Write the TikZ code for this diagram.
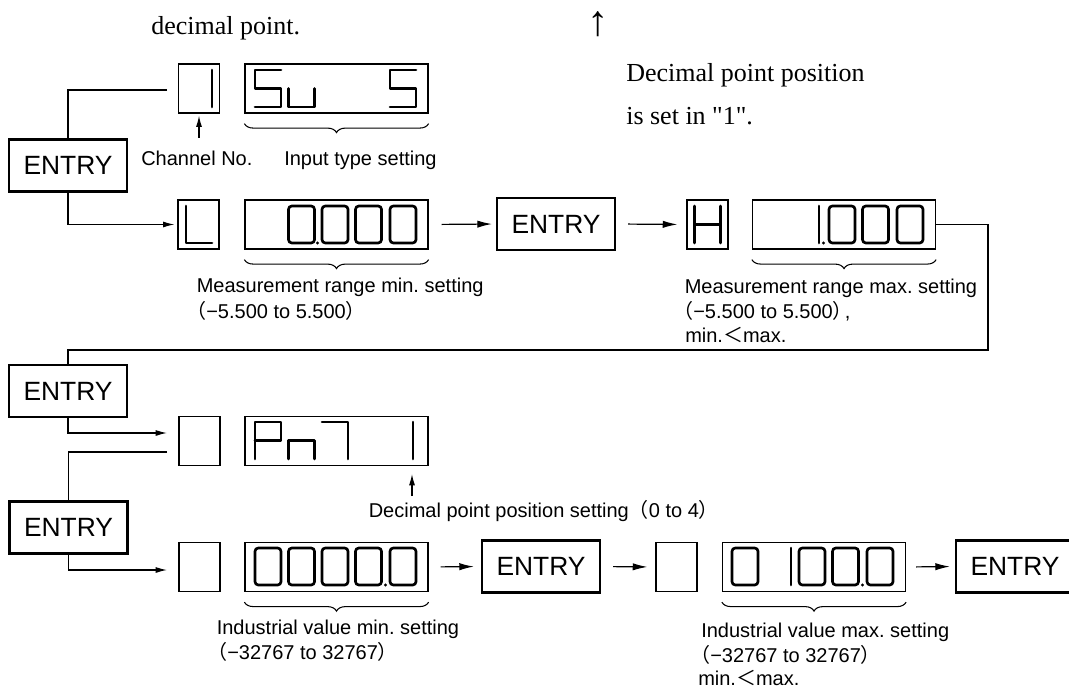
\documentclass[tikz,border=0pt]{standalone}
\usepackage{fontspec}
\setmainfont{Liberation Serif}[Ligatures=TeXOff]
\newfontfamily\sansf{Liberation Sans}
\newfontfamily\cjkf{Noto Sans CJK JP}
\usetikzlibrary{arrows.meta,decorations.pathreplacing,calc}
\newcommand\fw[1]{{\cjkf #1}}
\frenchspacing
\tikzset{
  entry/.style={draw, line width=1.6pt, minimum width=88.5pt, minimum height=39pt, inner sep=0pt, font=\sansf\fontsize{19.8}{22}\selectfont},
  chbox/.style={draw, line width=0.9pt, minimum width=30.75pt, minimum height=36.75pt, inner sep=0pt},
  disp/.style={draw, line width=0.9pt, minimum width=137.25pt, minimum height=36.75pt, inner sep=0pt},
  conn/.style={line width=0.9pt},
  arrbig/.style={-{Latex[length=11pt,width=5.5pt]}},
  arrsm/.style={-{Latex[length=8.5pt,width=4.5pt]}},
  brc/.style={decorate, decoration={brace, mirror, amplitude=6.75pt}, line width=0.8pt},
  lab/.style={font=\sansf\fontsize{15}{18}\selectfont, inner sep=0pt, anchor=base west},
  ser/.style={font=\fontsize{19.5}{22}\selectfont, inner sep=0pt, anchor=base west},
  seg/.style={line width=2pt, line join=round, line cap=round},
  pics/segzero/.style={code={\draw[seg, rounded corners=2.5pt] (0,0) rectangle (26,37);}},
  pics/segone/.style={code={\draw[seg] (26,0) -- (26,37);}},
  pics/segS/.style={code={\draw[seg] (26,0) -- (0,0) -- (0,18.5) -- (26,18.5) -- (26,37) -- (0,37);}},
  pics/segu/.style={code={\draw[seg] (0,18.5) -- (0,37) -- (26,37) -- (26,18.5);}},
  pics/segL/.style={code={\draw[seg] (0,0) -- (0,37) -- (26,37);}},
  pics/segH/.style={code={\draw[seg] (0,0) -- (0,37) (26,0) -- (26,37) (0,18.5) -- (26,18.5);}},
  pics/segP/.style={code={\draw[seg] (0,37) -- (0,0) -- (26,0) -- (26,18.5) -- (0,18.5);}},
  pics/segn/.style={code={\draw[seg] (0,37) -- (0,18.5) -- (26,18.5) -- (26,37);}},
  pics/segseven/.style={code={\draw[seg] (0,0) -- (26,0) -- (26,37);}},
}
\begin{document}
\begin{tikzpicture}[x=0.75pt,y=-0.75pt]
\useasboundingbox (0,0) rectangle (1069,688);

% ---------- top serif text ----------
\node[ser] (tdec) at (151,35) {decimal point.};
\node[ser, anchor=base, font=\fontsize{32}{34}\selectfont] (tarr) at (598,36) {↑};
\node[ser] (tpos1) at (626,82) {Decimal point position};
\node[ser] (tpos2) at (626,125) {is set in "1".};

% ---------- row 1 ----------
\node[chbox] (C1) at (199,88.5) {};
\node[disp] (D1) at (336.5,88.5) {};
\pic at (186,70) {segone};
\pic at (255,70) {segS};
\pic at (288.5,70) {segu};
\pic at (390,70) {segS};
\draw[brc] ($(D1.south west)+(0,10)$) -- ($(D1.south east)+(0,10)$);
\node[lab] (lchan) at (141,166) {Channel No.};
\node[lab] (linp) at (284,166) {Input type setting};
\coordinate (chtail) at (199,138);
\draw[conn, arrsm, shorten >=1.5pt] (chtail) -- (C1.south);

\node[entry] (E1) at (68,165.5) {ENTRY};
\coordinate (in1) at (167,90);
\draw[conn] (in1) -| (E1.north);

% ---------- row 2 ----------
\node[chbox] (C2) at (198.5,224.5) {};
\node[disp] (D2) at (336.5,224.5) {};
\node[entry] (E2) at (556,224) {ENTRY};
\node[chbox] (C3) at (707.5,224.5) {};
\node[disp] (D3) at (844,224.5) {};
\pic at (186,206) {segL};
\pic at (288.5,206) {segzero};
\fill (317.5,243) circle[radius=1.7];
\pic at (322,206) {segzero};
\pic at (355.5,206) {segzero};
\pic at (390,206) {segzero};
\pic at (694.5,206) {segH};
\pic at (793,206) {segone};
\fill (823.5,243) circle[radius=1.7];
\pic at (829,206) {segzero};
\pic at (862.5,206) {segzero};
\pic at (897,206) {segzero};
\draw[conn, arrsm, shorten >=2.25pt] (E1.south) |- (C2.west);
\draw[conn, arrbig, shorten <=9.75pt, shorten >=3pt] (D2.east) -- (E2.west);
\draw[conn, arrbig, shorten <=9pt, shorten >=6.75pt] (E2.east) -- (C3.west);
\draw[brc] ($(D2.south west)+(0,10)$) -- ($(D2.south east)+(0,10)$);
\draw[brc] ($(D3.south west)+(0,10)$) -- ($(D3.south east)+(0,10)$);
\node[lab] (lmin1) at (196.5,292) {Measurement range min. setting};
\node[lab] (lmin2) at (186,318) {\fw{（}−5.500 to 5.500\fw{）}};
\node[lab] (lmax1) at (684.5,293) {Measurement range max. setting};
\node[lab] (lmax2) at (673,318) {\fw{（}−5.500 to 5.500\fw{）}\kern-0.4em,};
\node[lab] (lmax3) at (685,342) {min.\fw{＜}max.};

% ---------- row 3 ----------
\node[entry] (E3) at (68,391) {ENTRY};
\coordinate (turn1) at (988,350);
\draw[conn] (D3.east) -| (turn1) -| (E3.north);
\node[chbox] (C4) at (199.5,441) {};
\node[disp] (D4) at (336.5,441) {};
\pic at (255,422) {segP};
\pic at (288.5,422) {segn};
\pic at (322,422) {segseven};
\pic at (387,422) {segone};
\coordinate (in4) at (167,433);
\draw[conn, arrsm] (E3.south) |- (in4);
\coordinate (dptail) at (412,496);
\coordinate (dptip) at (412,474);
\draw[conn, arrsm] (dptail) -- (dptip);
\node[lab] (ldp) at (368.5,517) {Decimal point position setting\fw{（}0 to 4\fw{）}};

% ---------- row 4 ----------
\node[entry] (E4) at (68.5,527.5) {ENTRY};
\coordinate (out4) at (167,452);
\draw[conn] (out4) -| (E4.north);
\node[chbox] (C5) at (199.5,567) {};
\node[disp] (D5) at (336.5,567) {};
\node[entry] (E5) at (541,566.5) {ENTRY};
\node[chbox] (C6) at (676.5,567) {};
\node[disp] (D6) at (814,567) {};
\node[entry] (E6) at (1015,566.5) {ENTRY};
\pic at (255,548) {segzero};
\pic at (288.5,548) {segzero};
\pic at (322,548) {segzero};
\pic at (355.5,548) {segzero};
\fill (385.5,585) circle[radius=1.7];
\pic at (390,548) {segzero};
\pic at (732,548) {segzero};
\pic at (765,548) {segone};
\pic at (799,548) {segzero};
\pic at (832.5,548) {segzero};
\fill (862.5,585) circle[radius=1.7];
\pic at (867,548) {segzero};
\coordinate (in5) at (167,570);
\draw[conn, arrsm] (E4.south) |- (in5);
\draw[conn, arrbig, shorten <=9pt, shorten >=5.25pt] (D5.east) -- (E5.west);
\draw[conn, arrbig, shorten <=9pt, shorten >=6pt] (E5.east) -- (C6.west);
\draw[conn, arrbig, shorten <=7.5pt, shorten >=3.75pt] (D6.east) -- (E6.west);
\draw[brc] ($(D5.south west)+(0,10)$) -- ($(D5.south east)+(0,10)$);
\draw[brc] ($(D6.south west)+(0,10)$) -- ($(D6.south east)+(0,10)$);
\node[lab] (lind1) at (216.5,634) {Industrial value min. setting};
\node[lab] (lind2) at (207,659) {\fw{（}−32767 to 32767\fw{）}};
\node[lab] (lindx1) at (701,637) {Industrial value max. setting};
\node[lab] (lindx2) at (690,662) {\fw{（}−32767 to 32767\fw{）}};
\node[lab] (lindx3) at (698,685) {min.\fw{＜}max.};
\end{tikzpicture}
\end{document}
